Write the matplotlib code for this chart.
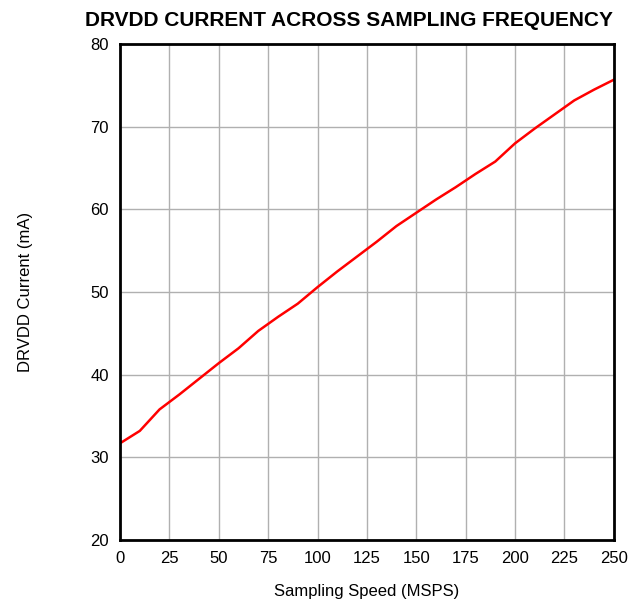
import matplotlib
matplotlib.use("Agg")
import matplotlib.pyplot as plt

plt.rcParams['font.family'] = ['Liberation Sans', 'DejaVu Sans']

speed_msps = [0, 10, 20, 30, 40, 50, 60, 70, 80, 90, 100, 110, 120, 130,
              140, 150, 160, 170, 180, 190, 200, 210, 220, 230, 240, 250]
drvdd_ma = [31.7, 33.2, 35.8, 37.6, 39.5, 41.4, 43.2, 45.3, 47.0, 48.6,
            50.6, 52.5, 54.3, 56.1, 58.0, 59.6, 61.2, 62.7, 64.3, 65.8,
            68.0, 69.8, 71.5, 73.2, 74.5, 75.7]

x_ticks = list(range(0, 251, 25))
y_ticks = list(range(20, 81, 10))

fig = plt.figure(figsize=(6.42, 6.06), dpi=100)
ax = fig.add_axes([0.187, 0.109, 0.769, 0.818])

ax.plot(speed_msps, drvdd_ma, color='#ff0000', linewidth=1.8)

ax.set_xlim(0, 250)
ax.set_ylim(20, 80)
ax.set_xticks(x_ticks)
ax.set_yticks(y_ticks)
ax.grid(True, color='#b0b0b0', linewidth=1.0)
ax.tick_params(length=0, labelsize=12, pad=8)
for s in ax.spines.values():
    s.set_linewidth(2)
    s.set_color('black')

ax.set_xlabel('Sampling Speed (MSPS)', fontsize=12, labelpad=13)
ax.set_ylabel('DRVDD Current (mA)', fontsize=12, labelpad=41)
ax.set_title('DRVDD CURRENT ACROSS SAMPLING FREQUENCY', fontsize=15,
             fontweight='bold', pad=13, x=0.463)

fig.savefig('out.png', dpi=100)
